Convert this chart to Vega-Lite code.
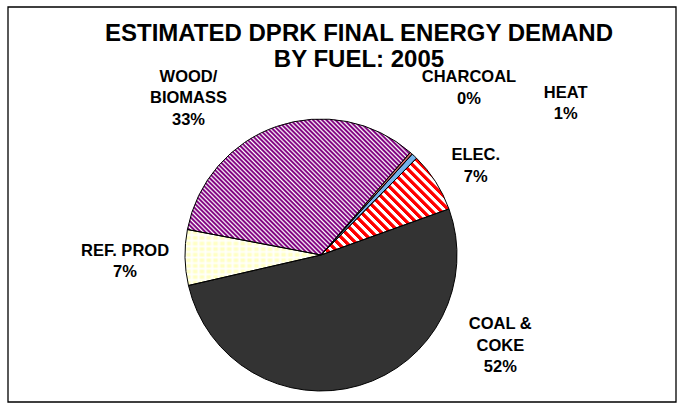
{
  "$schema": "https://vega.github.io/schema/vega-lite/v6.json",
  "width": 682,
  "height": 405,
  "autosize": {"type": "fit", "contains": "padding"},
  "padding": {"left": 7, "top": 6, "right": 5, "bottom": 2},
  "background": "white",
  "config": {"view": {"stroke": null}, "font": "Liberation Sans"},
  "title": {
    "text": ["ESTIMATED DPRK FINAL ENERGY DEMAND", "BY FUEL: 2005"],
    "font": "Liberation Sans",
    "fontSize": 24,
    "fontWeight": "bold",
    "color": "black",
    "anchor": "middle",
    "frame": "group",
    "offset": -66,
    "baseline": "top",
    "lineHeight": 26,
    "dx": 17
  },
  "data": {
    "values": [
      {"order": 1, "fuel": "COAL &\nCOKE", "share": 0.519},
      {"order": 2, "fuel": "REF. PROD", "share": 0.066},
      {"order": 3, "fuel": "WOOD/\nBIOMASS", "share": 0.334},
      {"order": 4, "fuel": "CHARCOAL", "share": 0.003},
      {"order": 5, "fuel": "HEAT", "share": 0.007},
      {"order": 6, "fuel": "ELEC.", "share": 0.071}
    ]
  },
  "transform": [
    {"stack": "share", "groupby": [], "sort": [{"field": "order", "order": "ascending"}], "as": ["s0", "s1"]},
    {"calculate": "(datum.s0 + datum.s1) / 2", "as": "mid"},
    {"calculate": "datum.fuel + '\\n' + format(datum.share, '.0%')", "as": "label"}
  ],
  "layer": [
    {
      "transform": [{"filter": "datum.order == 1"}],
      "mark": {"type": "rect", "x": 0, "y": 0, "x2": "width", "y2": "height", "filled": false, "stroke": "black", "strokeWidth": 1.3},
      "encoding": {}
    },
    {
      "transform": [{"filter": "datum.order == 1"}],
      "mark": {"type": "arc", "outerRadius": 136, "x": 313, "y": 248, "fill": "#333333"},
      "encoding": {
        "theta": {"field": "s0", "type": "quantitative", "scale": {"domain": [0, 1], "range": [1.2252, 7.5084]}},
        "theta2": {"field": "s1"}
      }
    },
    {
      "transform": [{"filter": "datum.order == 2"}],
      "mark": {"type": "arc", "outerRadius": 136, "x": 313, "y": 248, "fill": "#FFFFC4"},
      "encoding": {
        "theta": {"field": "s0", "type": "quantitative", "scale": {"domain": [0, 1], "range": [1.2252, 7.5084]}},
        "theta2": {"field": "s1"}
      }
    },
    {
      "transform": [{"filter": "datum.order == 2"}],
      "mark": {"type": "arc", "outerRadius": 136, "x": 313, "y": 248, "fill": {"gradient": "linear", "x1": 0, "y1": 0, "x2": 1, "y2": 0, "stops": [
        {"offset": 0, "color": "rgba(255,255,255,0.9)"}, {"offset": 0.017, "color": "rgba(255,255,255,0)"}, {"offset": 0.033, "color": "rgba(255,255,255,0)"},
        {"offset": 0.05, "color": "rgba(255,255,255,0.9)"}, {"offset": 0.067, "color": "rgba(255,255,255,0)"}, {"offset": 0.083, "color": "rgba(255,255,255,0)"},
        {"offset": 0.1, "color": "rgba(255,255,255,0.9)"}, {"offset": 0.117, "color": "rgba(255,255,255,0)"}, {"offset": 0.133, "color": "rgba(255,255,255,0)"},
        {"offset": 0.15, "color": "rgba(255,255,255,0.9)"}, {"offset": 0.167, "color": "rgba(255,255,255,0)"}, {"offset": 0.183, "color": "rgba(255,255,255,0)"},
        {"offset": 0.2, "color": "rgba(255,255,255,0.9)"}, {"offset": 0.217, "color": "rgba(255,255,255,0)"}, {"offset": 0.233, "color": "rgba(255,255,255,0)"},
        {"offset": 0.25, "color": "rgba(255,255,255,0.9)"}, {"offset": 0.267, "color": "rgba(255,255,255,0)"}, {"offset": 0.283, "color": "rgba(255,255,255,0)"},
        {"offset": 0.3, "color": "rgba(255,255,255,0.9)"}, {"offset": 0.317, "color": "rgba(255,255,255,0)"}, {"offset": 0.333, "color": "rgba(255,255,255,0)"},
        {"offset": 0.35, "color": "rgba(255,255,255,0.9)"}, {"offset": 0.367, "color": "rgba(255,255,255,0)"}, {"offset": 0.383, "color": "rgba(255,255,255,0)"},
        {"offset": 0.4, "color": "rgba(255,255,255,0.9)"}, {"offset": 0.417, "color": "rgba(255,255,255,0)"}, {"offset": 0.433, "color": "rgba(255,255,255,0)"},
        {"offset": 0.45, "color": "rgba(255,255,255,0.9)"}, {"offset": 0.467, "color": "rgba(255,255,255,0)"}, {"offset": 0.483, "color": "rgba(255,255,255,0)"},
        {"offset": 0.5, "color": "rgba(255,255,255,0.9)"}, {"offset": 0.517, "color": "rgba(255,255,255,0)"}, {"offset": 0.533, "color": "rgba(255,255,255,0)"},
        {"offset": 0.55, "color": "rgba(255,255,255,0.9)"}, {"offset": 0.567, "color": "rgba(255,255,255,0)"}, {"offset": 0.583, "color": "rgba(255,255,255,0)"},
        {"offset": 0.6, "color": "rgba(255,255,255,0.9)"}, {"offset": 0.617, "color": "rgba(255,255,255,0)"}, {"offset": 0.633, "color": "rgba(255,255,255,0)"},
        {"offset": 0.65, "color": "rgba(255,255,255,0.9)"}, {"offset": 0.667, "color": "rgba(255,255,255,0)"}, {"offset": 0.683, "color": "rgba(255,255,255,0)"},
        {"offset": 0.7, "color": "rgba(255,255,255,0.9)"}, {"offset": 0.717, "color": "rgba(255,255,255,0)"}, {"offset": 0.733, "color": "rgba(255,255,255,0)"},
        {"offset": 0.75, "color": "rgba(255,255,255,0.9)"}, {"offset": 0.767, "color": "rgba(255,255,255,0)"}, {"offset": 0.783, "color": "rgba(255,255,255,0)"},
        {"offset": 0.8, "color": "rgba(255,255,255,0.9)"}, {"offset": 0.817, "color": "rgba(255,255,255,0)"}, {"offset": 0.833, "color": "rgba(255,255,255,0)"},
        {"offset": 0.85, "color": "rgba(255,255,255,0.9)"}, {"offset": 0.867, "color": "rgba(255,255,255,0)"}, {"offset": 0.883, "color": "rgba(255,255,255,0)"},
        {"offset": 0.9, "color": "rgba(255,255,255,0.9)"}, {"offset": 0.917, "color": "rgba(255,255,255,0)"}, {"offset": 0.933, "color": "rgba(255,255,255,0)"},
        {"offset": 0.95, "color": "rgba(255,255,255,0.9)"}, {"offset": 0.967, "color": "rgba(255,255,255,0)"}, {"offset": 0.983, "color": "rgba(255,255,255,0)"},
        {"offset": 1, "color": "rgba(255,255,255,0.9)"}
      ]}},
      "encoding": {
        "theta": {"field": "s0", "type": "quantitative", "scale": {"domain": [0, 1], "range": [1.2252, 7.5084]}},
        "theta2": {"field": "s1"}
      }
    },
    {
      "transform": [{"filter": "datum.order == 2"}],
      "mark": {"type": "arc", "outerRadius": 136, "x": 313, "y": 248, "fill": {"gradient": "linear", "x1": 0, "y1": 0, "x2": 0, "y2": 1, "stops": [
        {"offset": 0, "color": "rgba(255,255,255,0.9)"}, {"offset": 0.035, "color": "rgba(255,255,255,0)"}, {"offset": 0.065, "color": "rgba(255,255,255,0)"},
        {"offset": 0.1, "color": "rgba(255,255,255,0.9)"}, {"offset": 0.135, "color": "rgba(255,255,255,0)"}, {"offset": 0.165, "color": "rgba(255,255,255,0)"},
        {"offset": 0.2, "color": "rgba(255,255,255,0.9)"}, {"offset": 0.235, "color": "rgba(255,255,255,0)"}, {"offset": 0.265, "color": "rgba(255,255,255,0)"},
        {"offset": 0.3, "color": "rgba(255,255,255,0.9)"}, {"offset": 0.335, "color": "rgba(255,255,255,0)"}, {"offset": 0.365, "color": "rgba(255,255,255,0)"},
        {"offset": 0.4, "color": "rgba(255,255,255,0.9)"}, {"offset": 0.435, "color": "rgba(255,255,255,0)"}, {"offset": 0.465, "color": "rgba(255,255,255,0)"},
        {"offset": 0.5, "color": "rgba(255,255,255,0.9)"}, {"offset": 0.535, "color": "rgba(255,255,255,0)"}, {"offset": 0.565, "color": "rgba(255,255,255,0)"},
        {"offset": 0.6, "color": "rgba(255,255,255,0.9)"}, {"offset": 0.635, "color": "rgba(255,255,255,0)"}, {"offset": 0.665, "color": "rgba(255,255,255,0)"},
        {"offset": 0.7, "color": "rgba(255,255,255,0.9)"}, {"offset": 0.735, "color": "rgba(255,255,255,0)"}, {"offset": 0.765, "color": "rgba(255,255,255,0)"},
        {"offset": 0.8, "color": "rgba(255,255,255,0.9)"}, {"offset": 0.835, "color": "rgba(255,255,255,0)"}, {"offset": 0.865, "color": "rgba(255,255,255,0)"},
        {"offset": 0.9, "color": "rgba(255,255,255,0.9)"}, {"offset": 0.935, "color": "rgba(255,255,255,0)"}, {"offset": 0.965, "color": "rgba(255,255,255,0)"},
        {"offset": 1, "color": "rgba(255,255,255,0.9)"}
      ]}},
      "encoding": {
        "theta": {"field": "s0", "type": "quantitative", "scale": {"domain": [0, 1], "range": [1.2252, 7.5084]}},
        "theta2": {"field": "s1"}
      }
    },
    {
      "transform": [{"filter": "datum.order == 3"}],
      "mark": {"type": "arc", "outerRadius": 136, "x": 313, "y": 248, "fill": {"gradient": "linear", "x1": 0, "y1": 1, "x2": 1.173, "y2": 0.284, "stops": [
        {"offset": 0, "color": "#800080"}, {"offset": 0.003, "color": "#800080"}, {"offset": 0.0075, "color": "#fff"},
        {"offset": 0.0125, "color": "#800080"}, {"offset": 0.0155, "color": "#800080"}, {"offset": 0.02, "color": "#fff"},
        {"offset": 0.025, "color": "#800080"}, {"offset": 0.028, "color": "#800080"}, {"offset": 0.0325, "color": "#fff"},
        {"offset": 0.0375, "color": "#800080"}, {"offset": 0.0405, "color": "#800080"}, {"offset": 0.045, "color": "#fff"},
        {"offset": 0.05, "color": "#800080"}, {"offset": 0.053, "color": "#800080"}, {"offset": 0.0575, "color": "#fff"},
        {"offset": 0.0625, "color": "#800080"}, {"offset": 0.0655, "color": "#800080"}, {"offset": 0.07, "color": "#fff"},
        {"offset": 0.075, "color": "#800080"}, {"offset": 0.078, "color": "#800080"}, {"offset": 0.0825, "color": "#fff"},
        {"offset": 0.0875, "color": "#800080"}, {"offset": 0.0905, "color": "#800080"}, {"offset": 0.095, "color": "#fff"},
        {"offset": 0.1, "color": "#800080"}, {"offset": 0.103, "color": "#800080"}, {"offset": 0.1075, "color": "#fff"},
        {"offset": 0.1125, "color": "#800080"}, {"offset": 0.1155, "color": "#800080"}, {"offset": 0.12, "color": "#fff"},
        {"offset": 0.125, "color": "#800080"}, {"offset": 0.128, "color": "#800080"}, {"offset": 0.1325, "color": "#fff"},
        {"offset": 0.1375, "color": "#800080"}, {"offset": 0.1405, "color": "#800080"}, {"offset": 0.145, "color": "#fff"},
        {"offset": 0.15, "color": "#800080"}, {"offset": 0.153, "color": "#800080"}, {"offset": 0.1575, "color": "#fff"},
        {"offset": 0.1625, "color": "#800080"}, {"offset": 0.1655, "color": "#800080"}, {"offset": 0.17, "color": "#fff"},
        {"offset": 0.175, "color": "#800080"}, {"offset": 0.178, "color": "#800080"}, {"offset": 0.1825, "color": "#fff"},
        {"offset": 0.1875, "color": "#800080"}, {"offset": 0.1905, "color": "#800080"}, {"offset": 0.195, "color": "#fff"},
        {"offset": 0.2, "color": "#800080"}, {"offset": 0.203, "color": "#800080"}, {"offset": 0.2075, "color": "#fff"},
        {"offset": 0.2125, "color": "#800080"}, {"offset": 0.2155, "color": "#800080"}, {"offset": 0.22, "color": "#fff"},
        {"offset": 0.225, "color": "#800080"}, {"offset": 0.228, "color": "#800080"}, {"offset": 0.2325, "color": "#fff"},
        {"offset": 0.2375, "color": "#800080"}, {"offset": 0.2405, "color": "#800080"}, {"offset": 0.245, "color": "#fff"},
        {"offset": 0.25, "color": "#800080"}, {"offset": 0.253, "color": "#800080"}, {"offset": 0.2575, "color": "#fff"},
        {"offset": 0.2625, "color": "#800080"}, {"offset": 0.2655, "color": "#800080"}, {"offset": 0.27, "color": "#fff"},
        {"offset": 0.275, "color": "#800080"}, {"offset": 0.278, "color": "#800080"}, {"offset": 0.2825, "color": "#fff"},
        {"offset": 0.2875, "color": "#800080"}, {"offset": 0.2905, "color": "#800080"}, {"offset": 0.295, "color": "#fff"},
        {"offset": 0.3, "color": "#800080"}, {"offset": 0.303, "color": "#800080"}, {"offset": 0.3075, "color": "#fff"},
        {"offset": 0.3125, "color": "#800080"}, {"offset": 0.3155, "color": "#800080"}, {"offset": 0.32, "color": "#fff"},
        {"offset": 0.325, "color": "#800080"}, {"offset": 0.328, "color": "#800080"}, {"offset": 0.3325, "color": "#fff"},
        {"offset": 0.3375, "color": "#800080"}, {"offset": 0.3405, "color": "#800080"}, {"offset": 0.345, "color": "#fff"},
        {"offset": 0.35, "color": "#800080"}, {"offset": 0.353, "color": "#800080"}, {"offset": 0.3575, "color": "#fff"},
        {"offset": 0.3625, "color": "#800080"}, {"offset": 0.3655, "color": "#800080"}, {"offset": 0.37, "color": "#fff"},
        {"offset": 0.375, "color": "#800080"}, {"offset": 0.378, "color": "#800080"}, {"offset": 0.3825, "color": "#fff"},
        {"offset": 0.3875, "color": "#800080"}, {"offset": 0.3905, "color": "#800080"}, {"offset": 0.395, "color": "#fff"},
        {"offset": 0.4, "color": "#800080"}, {"offset": 0.403, "color": "#800080"}, {"offset": 0.4075, "color": "#fff"},
        {"offset": 0.4125, "color": "#800080"}, {"offset": 0.4155, "color": "#800080"}, {"offset": 0.42, "color": "#fff"},
        {"offset": 0.425, "color": "#800080"}, {"offset": 0.428, "color": "#800080"}, {"offset": 0.4325, "color": "#fff"},
        {"offset": 0.4375, "color": "#800080"}, {"offset": 0.4405, "color": "#800080"}, {"offset": 0.445, "color": "#fff"},
        {"offset": 0.45, "color": "#800080"}, {"offset": 0.453, "color": "#800080"}, {"offset": 0.4575, "color": "#fff"},
        {"offset": 0.4625, "color": "#800080"}, {"offset": 0.4655, "color": "#800080"}, {"offset": 0.47, "color": "#fff"},
        {"offset": 0.475, "color": "#800080"}, {"offset": 0.478, "color": "#800080"}, {"offset": 0.4825, "color": "#fff"},
        {"offset": 0.4875, "color": "#800080"}, {"offset": 0.4905, "color": "#800080"}, {"offset": 0.495, "color": "#fff"},
        {"offset": 0.5, "color": "#800080"}, {"offset": 0.503, "color": "#800080"}, {"offset": 0.5075, "color": "#fff"},
        {"offset": 0.5125, "color": "#800080"}, {"offset": 0.5155, "color": "#800080"}, {"offset": 0.52, "color": "#fff"},
        {"offset": 0.525, "color": "#800080"}, {"offset": 0.528, "color": "#800080"}, {"offset": 0.5325, "color": "#fff"},
        {"offset": 0.5375, "color": "#800080"}, {"offset": 0.5405, "color": "#800080"}, {"offset": 0.545, "color": "#fff"},
        {"offset": 0.55, "color": "#800080"}, {"offset": 0.553, "color": "#800080"}, {"offset": 0.5575, "color": "#fff"},
        {"offset": 0.5625, "color": "#800080"}, {"offset": 0.5655, "color": "#800080"}, {"offset": 0.57, "color": "#fff"},
        {"offset": 0.575, "color": "#800080"}, {"offset": 0.578, "color": "#800080"}, {"offset": 0.5825, "color": "#fff"},
        {"offset": 0.5875, "color": "#800080"}, {"offset": 0.5905, "color": "#800080"}, {"offset": 0.595, "color": "#fff"},
        {"offset": 0.6, "color": "#800080"}, {"offset": 0.603, "color": "#800080"}, {"offset": 0.6075, "color": "#fff"},
        {"offset": 0.6125, "color": "#800080"}, {"offset": 0.6155, "color": "#800080"}, {"offset": 0.62, "color": "#fff"},
        {"offset": 0.625, "color": "#800080"}, {"offset": 0.628, "color": "#800080"}, {"offset": 0.6325, "color": "#fff"},
        {"offset": 0.6375, "color": "#800080"}, {"offset": 0.6405, "color": "#800080"}, {"offset": 0.645, "color": "#fff"},
        {"offset": 0.65, "color": "#800080"}, {"offset": 0.653, "color": "#800080"}, {"offset": 0.6575, "color": "#fff"},
        {"offset": 0.6625, "color": "#800080"}, {"offset": 0.6655, "color": "#800080"}, {"offset": 0.67, "color": "#fff"},
        {"offset": 0.675, "color": "#800080"}, {"offset": 0.678, "color": "#800080"}, {"offset": 0.6825, "color": "#fff"},
        {"offset": 0.6875, "color": "#800080"}, {"offset": 0.6905, "color": "#800080"}, {"offset": 0.695, "color": "#fff"},
        {"offset": 0.7, "color": "#800080"}, {"offset": 0.703, "color": "#800080"}, {"offset": 0.7075, "color": "#fff"},
        {"offset": 0.7125, "color": "#800080"}, {"offset": 0.7155, "color": "#800080"}, {"offset": 0.72, "color": "#fff"},
        {"offset": 0.725, "color": "#800080"}, {"offset": 0.728, "color": "#800080"}, {"offset": 0.7325, "color": "#fff"},
        {"offset": 0.7375, "color": "#800080"}, {"offset": 0.7405, "color": "#800080"}, {"offset": 0.745, "color": "#fff"},
        {"offset": 0.75, "color": "#800080"}, {"offset": 0.753, "color": "#800080"}, {"offset": 0.7575, "color": "#fff"},
        {"offset": 0.7625, "color": "#800080"}, {"offset": 0.7655, "color": "#800080"}, {"offset": 0.77, "color": "#fff"},
        {"offset": 0.775, "color": "#800080"}, {"offset": 0.778, "color": "#800080"}, {"offset": 0.7825, "color": "#fff"},
        {"offset": 0.7875, "color": "#800080"}, {"offset": 0.7905, "color": "#800080"}, {"offset": 0.795, "color": "#fff"},
        {"offset": 0.8, "color": "#800080"}, {"offset": 0.803, "color": "#800080"}, {"offset": 0.8075, "color": "#fff"},
        {"offset": 0.8125, "color": "#800080"}, {"offset": 0.8155, "color": "#800080"}, {"offset": 0.82, "color": "#fff"},
        {"offset": 0.825, "color": "#800080"}, {"offset": 0.828, "color": "#800080"}, {"offset": 0.8325, "color": "#fff"},
        {"offset": 0.8375, "color": "#800080"}, {"offset": 0.8405, "color": "#800080"}, {"offset": 0.845, "color": "#fff"},
        {"offset": 0.85, "color": "#800080"}, {"offset": 0.853, "color": "#800080"}, {"offset": 0.8575, "color": "#fff"},
        {"offset": 0.8625, "color": "#800080"}, {"offset": 0.8655, "color": "#800080"}, {"offset": 0.87, "color": "#fff"},
        {"offset": 0.875, "color": "#800080"}, {"offset": 0.878, "color": "#800080"}, {"offset": 0.8825, "color": "#fff"},
        {"offset": 0.8875, "color": "#800080"}, {"offset": 0.8905, "color": "#800080"}, {"offset": 0.895, "color": "#fff"},
        {"offset": 0.9, "color": "#800080"}, {"offset": 0.903, "color": "#800080"}, {"offset": 0.9075, "color": "#fff"},
        {"offset": 0.9125, "color": "#800080"}, {"offset": 0.9155, "color": "#800080"}, {"offset": 0.92, "color": "#fff"},
        {"offset": 0.925, "color": "#800080"}, {"offset": 0.928, "color": "#800080"}, {"offset": 0.9325, "color": "#fff"},
        {"offset": 0.9375, "color": "#800080"}, {"offset": 0.9405, "color": "#800080"}, {"offset": 0.945, "color": "#fff"},
        {"offset": 0.95, "color": "#800080"}, {"offset": 0.953, "color": "#800080"}, {"offset": 0.9575, "color": "#fff"},
        {"offset": 0.9625, "color": "#800080"}, {"offset": 0.9655, "color": "#800080"}, {"offset": 0.97, "color": "#fff"},
        {"offset": 0.975, "color": "#800080"}, {"offset": 0.978, "color": "#800080"}, {"offset": 0.9825, "color": "#fff"},
        {"offset": 0.9875, "color": "#800080"}, {"offset": 0.9905, "color": "#800080"}, {"offset": 0.995, "color": "#fff"},
        {"offset": 1, "color": "#800080"}
      ]}},
      "encoding": {
        "theta": {"field": "s0", "type": "quantitative", "scale": {"domain": [0, 1], "range": [1.2252, 7.5084]}},
        "theta2": {"field": "s1"}
      }
    },
    {
      "transform": [{"filter": "datum.order == 4"}],
      "mark": {"type": "arc", "outerRadius": 136, "x": 313, "y": 248, "fill": "#D06A6A"},
      "encoding": {
        "theta": {"field": "s0", "type": "quantitative", "scale": {"domain": [0, 1], "range": [1.2252, 7.5084]}},
        "theta2": {"field": "s1"}
      }
    },
    {
      "transform": [{"filter": "datum.order == 5"}],
      "mark": {"type": "arc", "outerRadius": 136, "x": 313, "y": 248, "fill": "#74B2EA"},
      "encoding": {
        "theta": {"field": "s0", "type": "quantitative", "scale": {"domain": [0, 1], "range": [1.2252, 7.5084]}},
        "theta2": {"field": "s1"}
      }
    },
    {
      "transform": [{"filter": "datum.order == 6"}],
      "mark": {"type": "arc", "outerRadius": 136, "x": 313, "y": 248, "fill": {"gradient": "linear", "x1": 0, "y1": 1, "x2": 1.117, "y2": 0.154, "stops": [
        {"offset": 0, "color": "red"}, {"offset": 0.017, "color": "red"}, {"offset": 0.021, "color": "#fff"}, {"offset": 0.036, "color": "#fff"},
        {"offset": 0.04, "color": "red"}, {"offset": 0.057, "color": "red"}, {"offset": 0.061, "color": "#fff"}, {"offset": 0.076, "color": "#fff"},
        {"offset": 0.08, "color": "red"}, {"offset": 0.097, "color": "red"}, {"offset": 0.101, "color": "#fff"}, {"offset": 0.116, "color": "#fff"},
        {"offset": 0.12, "color": "red"}, {"offset": 0.137, "color": "red"}, {"offset": 0.141, "color": "#fff"}, {"offset": 0.156, "color": "#fff"},
        {"offset": 0.16, "color": "red"}, {"offset": 0.177, "color": "red"}, {"offset": 0.181, "color": "#fff"}, {"offset": 0.196, "color": "#fff"},
        {"offset": 0.2, "color": "red"}, {"offset": 0.217, "color": "red"}, {"offset": 0.221, "color": "#fff"}, {"offset": 0.236, "color": "#fff"},
        {"offset": 0.24, "color": "red"}, {"offset": 0.257, "color": "red"}, {"offset": 0.261, "color": "#fff"}, {"offset": 0.276, "color": "#fff"},
        {"offset": 0.28, "color": "red"}, {"offset": 0.297, "color": "red"}, {"offset": 0.301, "color": "#fff"}, {"offset": 0.316, "color": "#fff"},
        {"offset": 0.32, "color": "red"}, {"offset": 0.337, "color": "red"}, {"offset": 0.341, "color": "#fff"}, {"offset": 0.356, "color": "#fff"},
        {"offset": 0.36, "color": "red"}, {"offset": 0.377, "color": "red"}, {"offset": 0.381, "color": "#fff"}, {"offset": 0.396, "color": "#fff"},
        {"offset": 0.4, "color": "red"}, {"offset": 0.417, "color": "red"}, {"offset": 0.421, "color": "#fff"}, {"offset": 0.436, "color": "#fff"},
        {"offset": 0.44, "color": "red"}, {"offset": 0.457, "color": "red"}, {"offset": 0.461, "color": "#fff"}, {"offset": 0.476, "color": "#fff"},
        {"offset": 0.48, "color": "red"}, {"offset": 0.497, "color": "red"}, {"offset": 0.501, "color": "#fff"}, {"offset": 0.516, "color": "#fff"},
        {"offset": 0.52, "color": "red"}, {"offset": 0.537, "color": "red"}, {"offset": 0.541, "color": "#fff"}, {"offset": 0.556, "color": "#fff"},
        {"offset": 0.56, "color": "red"}, {"offset": 0.577, "color": "red"}, {"offset": 0.581, "color": "#fff"}, {"offset": 0.596, "color": "#fff"},
        {"offset": 0.6, "color": "red"}, {"offset": 0.617, "color": "red"}, {"offset": 0.621, "color": "#fff"}, {"offset": 0.636, "color": "#fff"},
        {"offset": 0.64, "color": "red"}, {"offset": 0.657, "color": "red"}, {"offset": 0.661, "color": "#fff"}, {"offset": 0.676, "color": "#fff"},
        {"offset": 0.68, "color": "red"}, {"offset": 0.697, "color": "red"}, {"offset": 0.701, "color": "#fff"}, {"offset": 0.716, "color": "#fff"},
        {"offset": 0.72, "color": "red"}, {"offset": 0.737, "color": "red"}, {"offset": 0.741, "color": "#fff"}, {"offset": 0.756, "color": "#fff"},
        {"offset": 0.76, "color": "red"}, {"offset": 0.777, "color": "red"}, {"offset": 0.781, "color": "#fff"}, {"offset": 0.796, "color": "#fff"},
        {"offset": 0.8, "color": "red"}, {"offset": 0.817, "color": "red"}, {"offset": 0.821, "color": "#fff"}, {"offset": 0.836, "color": "#fff"},
        {"offset": 0.84, "color": "red"}, {"offset": 0.857, "color": "red"}, {"offset": 0.861, "color": "#fff"}, {"offset": 0.876, "color": "#fff"},
        {"offset": 0.88, "color": "red"}, {"offset": 0.897, "color": "red"}, {"offset": 0.901, "color": "#fff"}, {"offset": 0.916, "color": "#fff"},
        {"offset": 0.92, "color": "red"}, {"offset": 0.937, "color": "red"}, {"offset": 0.941, "color": "#fff"}, {"offset": 0.956, "color": "#fff"},
        {"offset": 0.96, "color": "red"}, {"offset": 0.977, "color": "red"}, {"offset": 0.981, "color": "#fff"}, {"offset": 0.996, "color": "#fff"}
      ]}},
      "encoding": {
        "theta": {"field": "s0", "type": "quantitative", "scale": {"domain": [0, 1], "range": [1.2252, 7.5084]}},
        "theta2": {"field": "s1"}
      }
    },
    {
      "mark": {"type": "arc", "outerRadius": 136, "x": 313, "y": 248, "filled": false, "stroke": "black", "strokeWidth": 1},
      "encoding": {
        "theta": {"field": "s0", "type": "quantitative", "scale": {"domain": [0, 1], "range": [1.2252, 7.5084]}},
        "theta2": {"field": "s1"}
      }
    },
    {
      "transform": [{"filter": "datum.order == 1"}],
      "mark": {"type": "text", "x": 313, "y": 248, "radius": 150, "dx": 137, "dy": -74.5, "font": "Liberation Sans", "fontSize": 16.5, "fontWeight": "bold", "lineBreak": "\n", "lineHeight": 21.5, "align": "center", "baseline": "middle", "color": "black"},
      "encoding": {
        "theta": {"field": "mid", "type": "quantitative", "stack": null, "scale": {"domain": [0, 1], "range": [1.2252, 7.5084]}},
        "text": {"field": "label"}
      }
    },
    {
      "transform": [{"filter": "datum.order == 2"}],
      "mark": {"type": "text", "x": 313, "y": 248, "radius": 196, "dy": -7.75, "font": "Liberation Sans", "fontSize": 16.5, "fontWeight": "bold", "lineBreak": "\n", "lineHeight": 21.5, "align": "center", "baseline": "middle", "color": "black"},
      "encoding": {
        "theta": {"field": "mid", "type": "quantitative", "stack": null, "scale": {"domain": [0, 1], "range": [1.2252, 7.5084]}},
        "text": {"field": "label"}
      }
    },
    {
      "transform": [{"filter": "datum.order == 3"}],
      "mark": {"type": "text", "x": 313, "y": 248, "radius": 205, "dx": -65.5, "dy": 15.5, "font": "Liberation Sans", "fontSize": 16.5, "fontWeight": "bold", "lineBreak": "\n", "lineHeight": 21.5, "align": "center", "baseline": "middle", "color": "black"},
      "encoding": {
        "theta": {"field": "mid", "type": "quantitative", "stack": null, "scale": {"domain": [0, 1], "range": [1.2252, 7.5084]}},
        "text": {"field": "label"}
      }
    },
    {
      "transform": [{"filter": "datum.order == 4"}],
      "mark": {"type": "text", "x": 313, "y": 248, "radius": 223, "dy": -10.75, "font": "Liberation Sans", "fontSize": 16.5, "fontWeight": "bold", "lineBreak": "\n", "lineHeight": 21.5, "align": "center", "baseline": "middle", "color": "black"},
      "encoding": {
        "theta": {"field": "mid", "type": "quantitative", "stack": null, "scale": {"domain": [0, 1], "range": [1.2252, 7.5084]}},
        "text": {"field": "label"}
      }
    },
    {
      "transform": [{"filter": "datum.order == 5"}],
      "mark": {"type": "text", "x": 313, "y": 248, "radius": 250, "dx": 73, "dy": 19.25, "font": "Liberation Sans", "fontSize": 16.5, "fontWeight": "bold", "lineBreak": "\n", "lineHeight": 21.5, "align": "center", "baseline": "middle", "color": "black"},
      "encoding": {
        "theta": {"field": "mid", "type": "quantitative", "stack": null, "scale": {"domain": [0, 1], "range": [1.2252, 7.5084]}},
        "text": {"field": "label"}
      }
    },
    {
      "transform": [{"filter": "datum.order == 6"}],
      "mark": {"type": "text", "x": 313, "y": 248, "radius": 180, "dx": 3, "dy": -2.75, "font": "Liberation Sans", "fontSize": 16.5, "fontWeight": "bold", "lineBreak": "\n", "lineHeight": 21.5, "align": "center", "baseline": "middle", "color": "black"},
      "encoding": {
        "theta": {"field": "mid", "type": "quantitative", "stack": null, "scale": {"domain": [0, 1], "range": [1.2252, 7.5084]}},
        "text": {"field": "label"}
      }
    }
  ]
}
